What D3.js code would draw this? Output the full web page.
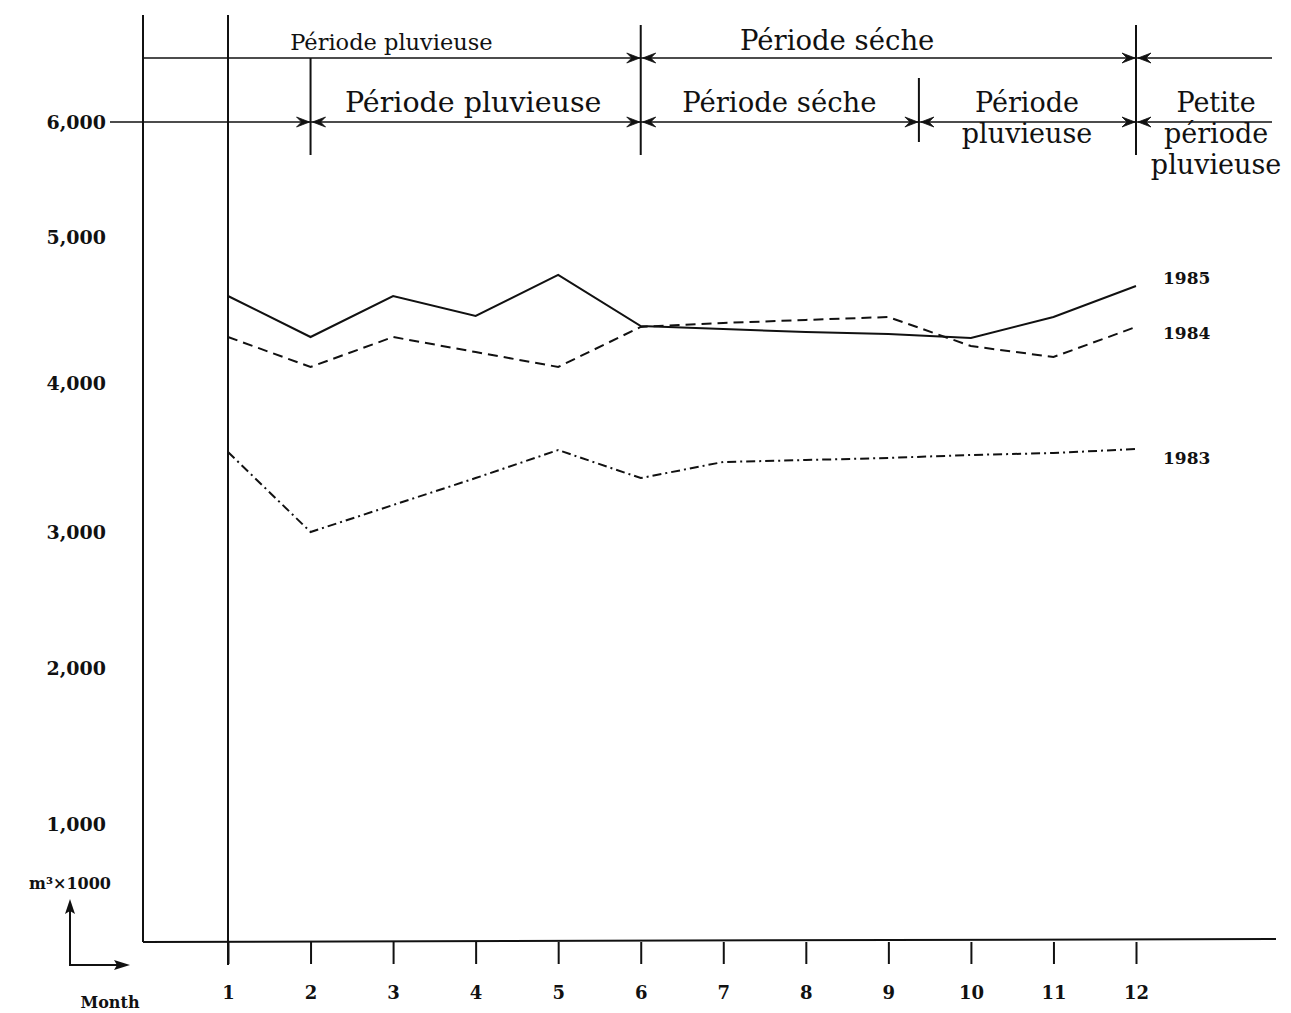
<!DOCTYPE html>
<html><head><meta charset="utf-8">
<script src="https://cdn.jsdelivr.net/npm/d3@7"></script>
<style>
html,body{margin:0;padding:0;background:#fff;}
svg text{font-family:"DejaVu Serif",serif;fill:#111;}
</style></head>
<body>
<svg id="chart" width="1291" height="1013"></svg>
<script>
// ---- data ----
const months = [1,2,3,4,5,6,7,8,9,10,11,12];
const monthLabels = ["1","2","3","4","5","6","7","8","9","10","11","12"];
const values1985 = [4596,4315,4596,4459,4740,4390,4370,4349,4336,4308,4452,4664];
const values1984 = [4315,4110,4315,4212,4110,4384,4411,4432,4452,4253,4178,4384];
const values1983 = [3537,3000,3181,3362,3550,3362,3470,3483,3497,3517,3530,3557];
const seriesNames = ["1985","1984","1983"];
const yTicks = [1000,2000,3000,4000,5000,6000];
const yTickLabels = ["1,000","2,000","3,000","4,000","5,000","6,000"];
const yUnit = "m³×1000";
const xUnit = "Month";
// period annotations (month positions of boundaries)
const topRowBounds = [6,12];
const topRowLabels = [
  {text:"Période pluvieuse", center:2.98, size:22.5},
  {text:"Période séche", center:8.38, size:27.5}
];
const secondRowBounds = [2,6,9.37,12];
const secondRowLabels = [
  {lines:["Période pluvieuse"], center:3.97, size:28.5},
  {lines:["Période séche"], center:7.68, size:27.5},
  {lines:["Période","pluvieuse"], center:10.68, size:27},
  {lines:["Petite","période","pluvieuse"], center:12.97, size:27}
];

// ---- scales ----
const svg = d3.select("#chart");
const x = d3.scaleLinear().domain([1,12]).range([228,1136]);
const y = d3.scaleLinear().domain([0,1000,2000,3000,4000,5000,6000])
  .range([942,824,668,532,383,237,122]);

const ink = "#111";
const frameLeft = 143, frameRight = 1276, baseY = y(0);

// frame
svg.append("line").attr("x1",frameLeft).attr("x2",frameLeft).attr("y1",15).attr("y2",baseY)
  .attr("stroke",ink).attr("stroke-width",2);
svg.append("line").attr("x1",x(1)).attr("x2",x(1)).attr("y1",15).attr("y2",baseY+23)
  .attr("stroke",ink).attr("stroke-width",2);

// x axis
const xAxis = d3.axisBottom(x).tickValues(months).tickFormat((d,i)=>monthLabels[i])
  .tickSize(22).tickPadding(22);
const gx = svg.append("g").attr("transform",`translate(0,${baseY})`).call(xAxis);
gx.select(".domain").remove();
gx.append("line").attr("x1",frameLeft).attr("x2",frameRight).attr("y1",0).attr("y2",-3)
  .attr("stroke",ink).attr("stroke-width",2);
gx.selectAll(".tick line").attr("stroke",ink).attr("stroke-width",2);
gx.selectAll(".tick text").attr("fill",ink).style("font-size","18px").style("font-weight","bold")
  .style("font-family","'DejaVu Serif',serif");

// y axis labels (no tick marks)
const yAxis = d3.axisLeft(y).tickValues(yTicks).tickFormat((d,i)=>yTickLabels[i]).tickSize(0).tickPadding(0);
const gy = svg.append("g").attr("transform","translate(106,0)").call(yAxis);
gy.select(".domain").remove();
gy.selectAll(".tick text").attr("fill",ink).style("font-size","19px").style("font-weight","bold")
  .style("font-family","'DejaVu Serif',serif");

// unit labels and direction arrows
svg.append("text").attr("x",70).attr("y",889).attr("text-anchor","middle")
  .style("font-size","16px").style("font-weight","bold").text(yUnit);
svg.append("text").attr("x",110).attr("y",1008).attr("text-anchor","middle")
  .style("font-size","16px").style("font-weight","bold").text(xUnit);
svg.append("path").attr("d","M70,902 L70,965 L124,965").attr("fill","none").attr("stroke",ink).attr("stroke-width",2);
svg.append("path").attr("d","M70,899 L65,914 L70,911 L75,914 Z").attr("fill",ink);
svg.append("path").attr("d","M130,965 L114,960 L117,965 L114,970 Z").attr("fill",ink);

// arrowhead helper: tip at (tx,ty), dir = +1 points right, -1 points left
function arrowHead(tx,ty,dir){
  const L=13, W=5;
  svg.append("path")
    .attr("d",`M${tx},${ty} L${tx-dir*L},${ty-W} L${tx-dir*8},${ty} L${tx-dir*L},${ty+W} Z`)
    .attr("fill",ink).attr("stroke",ink).attr("stroke-width",0.8);
}

// top row
const row1Y = 58, row2Y = 122;
svg.append("line").attr("x1",frameLeft).attr("x2",1272).attr("y1",row1Y).attr("y2",row1Y)
  .attr("stroke",ink).attr("stroke-width",1.6);
topRowBounds.forEach(m=>{
  svg.append("line").attr("x1",x(m)).attr("x2",x(m)).attr("y1",25).attr("y2",155)
    .attr("stroke",ink).attr("stroke-width",2);
  arrowHead(x(m)-1,row1Y,1);
  arrowHead(x(m)+2,row1Y,-1);
});
topRowLabels.forEach(d=>{
  svg.append("text").attr("x",x(d.center)).attr("y",50)
    .attr("text-anchor","middle").style("font-size",d.size+"px").text(d.text);
});

// second row
svg.append("line").attr("x1",110).attr("x2",1272).attr("y1",row2Y).attr("y2",row2Y)
  .attr("stroke",ink).attr("stroke-width",1.6);
secondRowBounds.forEach(m=>{
  if(m===2 || m===9.37){
    svg.append("line").attr("x1",x(m)).attr("x2",x(m))
      .attr("y1",m===2?row1Y:78).attr("y2",m===2?155:142)
      .attr("stroke",ink).attr("stroke-width",2);
  }
  arrowHead(x(m)-1,row2Y,1);
  arrowHead(x(m)+2,row2Y,-1);
});
secondRowLabels.forEach(d=>{
  const t = svg.append("text").attr("x",x(d.center)).attr("y",112)
    .attr("text-anchor","middle").style("font-size",d.size+"px");
  d.lines.forEach((ln,i)=>{
    t.append("tspan").attr("x",x(d.center)).attr("dy",i===0?0:31).text(ln);
  });
});

// series lines
const series = [
  {name:seriesNames[0], values:values1985, dash:null},
  {name:seriesNames[1], values:values1984, dash:"10,6"},
  {name:seriesNames[2], values:values1983, dash:"9,4,2,4"}
];
const line = d3.line().x((d,i)=>x(months[i])).y(d=>y(d));
series.forEach(s=>{
  svg.append("path").datum(s.values).attr("d",line).attr("fill","none")
    .attr("stroke",ink).attr("stroke-width",2)
    .attr("stroke-dasharray",s.dash);
});
// series labels
const labelOffsets = {"1985":-8,"1984":6,"1983":9};
series.forEach(s=>{
  const last = s.values[s.values.length-1];
  svg.append("text").attr("x",x(12)+27).attr("y",y(last)+labelOffsets[s.name]+6)
    .style("font-size","17px").style("font-weight","bold").text(s.name);
});
</script>
</body></html>
